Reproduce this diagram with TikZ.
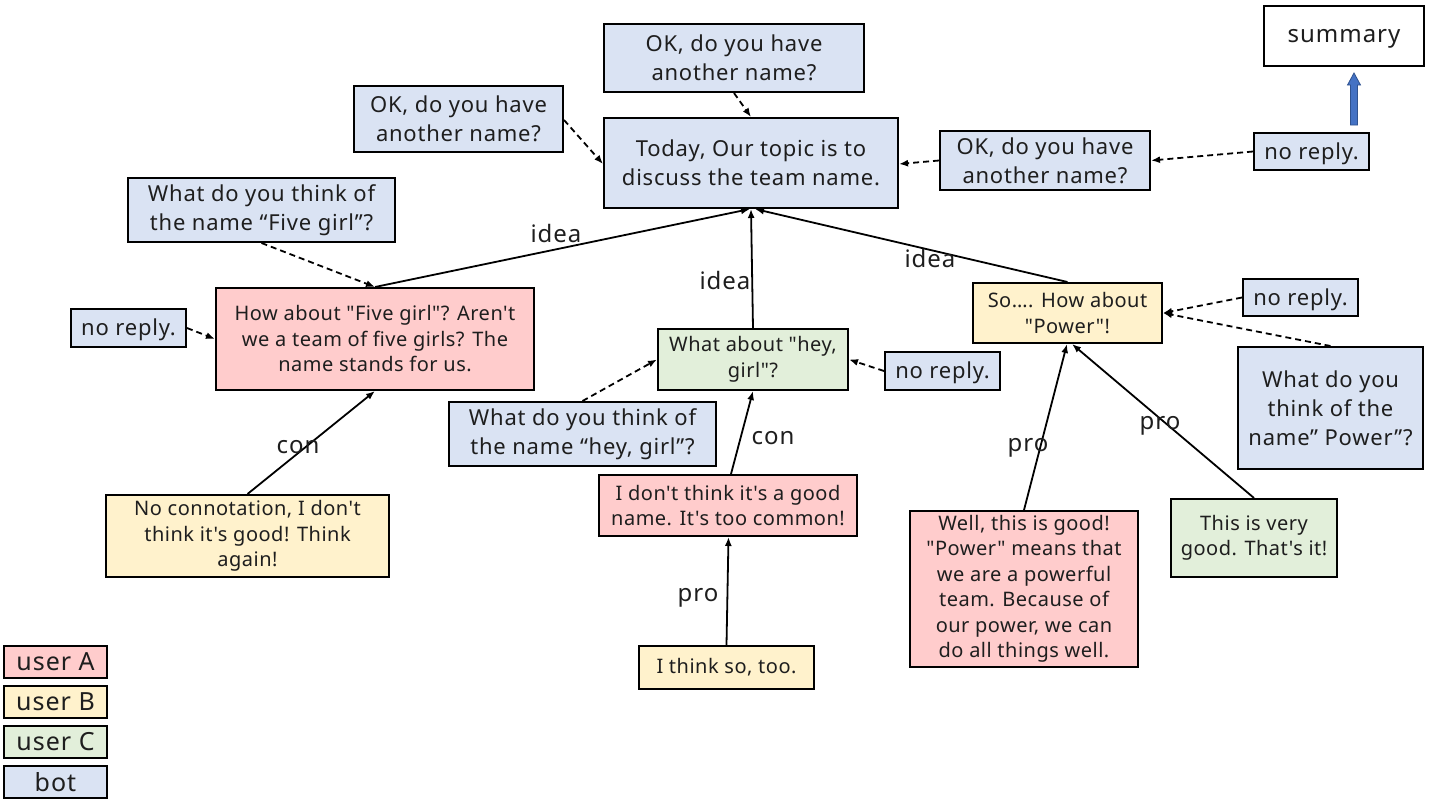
\documentclass[tikz,border=0pt]{standalone}
\usepackage{fontspec}
\newfontfamily\ufbig{Noto Sans}[LetterSpace=3.5]
\newfontfamily\ufsmall{Noto Sans}[LetterSpace=2.5]
\newfontfamily\ufwide{Noto Sans}[LetterSpace=4]
\usetikzlibrary{arrows.meta}
\definecolor{cA}{HTML}{FFCCCC}
\definecolor{cB}{HTML}{FFF2CC}
\definecolor{cC}{HTML}{E2EFDA}
\definecolor{cBot}{HTML}{DAE3F3}
\definecolor{txt}{HTML}{1E1E1E}
\definecolor{bluefill}{HTML}{4472C4}
\definecolor{blueline}{HTML}{2F528F}
\tikzset{
  box/.style={draw=black, line width=2pt, align=center, inner sep=0pt, text=txt},
  bigfont/.style={font=\ufbig\fontsize{22}{29}\selectfont},
  smallfont/.style={font=\ufsmall\fontsize{20}{25.5}\selectfont},
  widefont/.style={font=\ufwide\fontsize{24}{28}\selectfont},
  bot/.style={box, fill=cBot, bigfont},
  nrbox/.style={bot, minimum width=115pt, text depth=1pt},
  ua/.style={box, fill=cA, smallfont},
  ub/.style={box, fill=cB, smallfont},
  uc/.style={box, fill=cC, smallfont},
  legendbox/.style={box, font=\ufwide\fontsize{25}{28}\selectfont, minimum width=103pt, minimum height=32pt},
  conn/.style={line width=1.8pt, draw=black, -{Latex[length=9pt,width=7pt]}},
  dconn/.style={conn, dash pattern=on 6pt off 4pt},
  lbl/.style={widefont, inner sep=0pt, text=txt}
}
\begin{document}
\begin{tikzpicture}[x=1pt,y=-1pt]
\useasboundingbox (0,0) rectangle (1436,804);
\fill[white] (0,0) rectangle (1436,804);

% bot boxes
\node[box, widefont, fill=white, minimum width=160pt, minimum height=60pt, text depth=0pt] (summary) at (1344,36) {summary};
\node[bot, minimum width=260pt, minimum height=68pt] (topOK) at (734,58) {OK, do you have\\another name?};
\node[bot, minimum width=209pt, minimum height=66pt] (leftOK) at (458.5,119) {OK, do you have\\another name?};
\node[bot, minimum width=294pt, minimum height=90pt] (center) at (751,163) {Today, Our topic is to\\discuss the team name.};
\node[bot, minimum width=210pt, minimum height=59pt] (rightOK) at (1045,160.5) {OK, do you have\\another name?};
\node[nrbox, minimum height=37pt] (nr1) at (1311.5,151.5) {no reply.};
\node[bot, minimum width=267pt, minimum height=64pt] (qFive) at (261.5,210) {What do you think of\\the name “Five girl”?};
\node[nrbox, minimum height=38pt] (nr2) at (128.5,328) {no reply.};
\node[nrbox, minimum height=38pt] (nr3) at (942.5,371) {no reply.};
\node[bot, minimum width=267pt, minimum height=64pt] (qHey) at (582.5,434) {What do you think of\\the name “hey, girl”?};
\node[nrbox, minimum height=37pt] (nr4) at (1300.5,297.5) {no reply.};
\node[bot, minimum width=185pt, minimum height=122pt] (qPower) at (1330.5,408) {What do you\\think of the\\name” Power”?};

% user boxes
\node[ua, minimum width=318pt, minimum height=102pt] (five) at (375,339) {How about "Five girl"? Aren't\\we a team of five girls? The\\name stands for us.};
\node[uc, minimum width=190pt, minimum height=61pt] (hey) at (753,359.5) {What about "hey,\\girl"?};
\node[ub, minimum width=189pt, minimum height=60pt] (power) at (1067.5,313) {So…. How about\\"Power"!};
\node[ub, minimum width=283pt, minimum height=82pt] (noconn) at (247.5,536) {No connotation, I don't\\think it's good! Think\\again!};
\node[ua, minimum width=258pt, minimum height=61pt] (dont) at (728,505.5) {I don't think it's a good\\name. It's too common!};
\node[ub, minimum width=175pt, minimum height=43pt] (so) at (726.5,667.5) {I think so, too.};
\node[ua, minimum width=228pt, minimum height=156pt] (well) at (1024,589) {Well, this is good!\\"Power" means that\\we are a powerful\\team. Because of\\our power, we can\\do all things well.};
\node[uc, minimum width=166pt, minimum height=78pt] (good) at (1254,538) {This is very\\good. That's it!};

% legend
\node[legendbox, fill=cA] (legA) at (55.5,662) {user A};
\node[legendbox, fill=cB] (legB) at (55.5,702) {user B};
\node[legendbox, fill=cC] (legC) at (55.5,742) {user C};
\node[legendbox, fill=cBot] (legBot) at (55.5,782) {bot};

% solid connectors
\draw[conn] (five.north) -- ([xshift=-1pt]center.south);
\draw[conn] (hey.north) -- (center.south);
\draw[conn] (power.north) -- ([xshift=4pt]center.south);
\draw[conn] (noconn.north) -- (five.south);
\draw[conn] ([xshift=3pt]dont.north) -- (hey.south);
\draw[conn] (so.north) -- ([xshift=0.5pt]dont.south);
\draw[conn] (well.north) -- ([xshift=-0.5pt]power.south);
\draw[conn] (good.north) -- ([xshift=4.5pt]power.south);

% labels
\node[lbl] (l1) at (556,233) {idea};
\node[lbl] (l2) at (725,280) {idea};
\node[lbl] (l3) at (930,258) {idea};
\node[lbl] (l4) at (298,447) {con};
\node[lbl] (l5) at (773,438) {con};
\node[lbl] (l6) at (698,598) {pro};
\node[lbl] (l7) at (1028,448) {pro};
\node[lbl] (l8) at (1160,426) {pro};

% dashed connectors
\draw[dconn] (topOK.south) -- (center.north);
\draw[dconn] ([yshift=-1pt]leftOK.east) -- ([yshift=-1pt]center.west);
\draw[dconn] (rightOK.west) -- ([yshift=-1pt]center.east);
\draw[dconn] (nr1.west) -- (rightOK.east);
\draw[dconn] (qFive.south) -- (five.north);
\draw[dconn] (nr2.east) -- (five.west);
\draw[dconn] (qHey.north) -- (hey.west);
\draw[dconn] (nr3.west) -- (hey.east);
\draw[dconn] (nr4.west) -- (power.east);
\draw[dconn] (qPower.north) -- (power.east);

% blue block arrow
\coordinate (bt) at (1354,73);
\filldraw[fill=bluefill, draw=blueline, line width=0.8pt]
  (1350.5,125) -- (1350.5,85) -- (1347.5,85) -- (bt) -- (1360.5,85) -- (1357.5,85) -- (1357.5,125) -- cycle;
\end{tikzpicture}
\end{document}
